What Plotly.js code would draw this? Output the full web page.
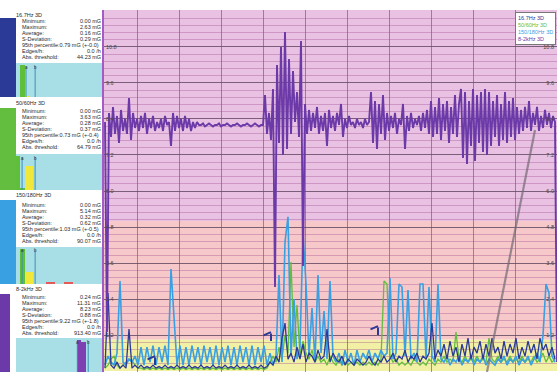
<!DOCTYPE html>
<html><head><meta charset="utf-8">
<script src="https://cdn.plot.ly/plotly-3.0.1.min.js"></script>
<style>html,body{margin:0;padding:0;background:#fff;overflow:hidden}#chart{width:560px;height:372px}</style>
</head><body><div id="chart"></div>
<script>
// ---------------- DATA ----------------
const seriesNames = ["16.7Hz 3D", "50/60Hz 3D", "150/180Hz 3D", "8-2kHz 3D"];

// 8-2kHz 3D (one sample every 2 time units)
const kHzValues = [
8.3,1.3,8.6,7.8,8.8,7.9,8.5,7.6,8.7,8.0,8.4,7.9,9.1,7.7,8.6,8.1,
8.4,8.0,8.5,8.1,8.6,7.9,8.4,8.1,8.5,8.0,8.3,8.1,8.4,8.0,8.5,8.2,8.3,
7.5,8.6,8.0,8.5,8.1,8.4,8.0,8.5,8.1,8.4,8.0,8.3,8.1,8.3,8.2,
8.2,8.25,8.15,8.2,8.25,8.2,8.15,8.2,8.2,8.25,8.15,8.2,8.2,8.25,8.2,8.15,8.2,8.2,8.25,8.2,8.15,8.2,8.2,8.25,8.2,8.15,8.2,8.25,8.2,8.15,8.2,8.2,
9.2,7.9,8.6,7.7,9.4,2.8,10.2,7.6,10.8,7.2,11.3,7.4,10.4,7.9,10.0,8.3,9.3,7.8,
11.0,3.5,8.9,7.9,8.7,8.0,8.6,8.1,8.8,7.9,8.5,8.0,8.6,7.5,8.7,8.1,8.5,8.0,8.6,8.2,8.9,7.8,8.4,8.1,8.5,8.2,8.3,8.1,8.4,8.2,8.3,8.1,8.4,8.2,8.3,
9.3,7.6,9.0,7.4,8.9,7.9,9.2,7.7,8.6,8.0,
8.5,8.1,8.6,7.9,8.4,8.2,8.9,7.4,8.5,8.0,8.6,8.1,8.4,8.2,8.5,8.0,8.6,8.1,8.7,7.9,
9.0,7.8,8.8,7.9,9.1,7.7,8.9,8.0,9.0,7.6,8.8,7.9,9.2,7.8,8.9,
9.4,7.1,9.3,6.9,9.0,7.5,9.4,7.0,9.2,7.6,9.3,7.3,9.4,
7.2,9.3,7.5,9.0,7.8,9.2,7.5,8.9,7.7,9.3,7.6,9.0,7.8,9.1,7.7,8.8,7.9,
8.7,8.0,8.8,8.1,9.0,8.0,8.6,8.2,8.8,8.0,8.5,8.1,8.7,8.2,8.6,8.1,8.5,
8.3,0.3];

// 150/180Hz 3D (one sample every 3 time units)
const hz150Values = [
0.2,0.5,0.3,0.2,0.6,3.0,0.3,0.2,0.4,0.3,
0.5,0.2,0.8,0.2,0.8,0.3,0.85,0.2,0.8,0.3,
0.85,0.2,3.4,1.9,0.2,0.85,0.2,0.8,0.2,0.85,
0.3,0.8,0.2,0.85,0.3,0.8,0.2,0.85,0.2,0.8,
0.3,0.85,0.2,0.8,0.2,0.85,0.3,0.8,0.2,0.85,
0.2,0.8,0.3,0.85,0.2,0.6,0.2,0.5,3.2,0.3,
4.3,5.14,0.5,2.4,0.4,0.8,4.6,2.9,0.5,2.1,
0.3,3.2,0.6,2.0,0.4,3.0,0.5,0.3,0.6,0.2,
0.7,0.3,0.6,0.2,0.7,0.3,0.6,0.4,0.7,0.3,
0.6,0.4,0.7,0.5,0.6,3.1,0.4,0.6,2.9,2.8,
0.5,2.7,0.4,0.6,0.3,2.9,2.9,0.4,2.8,0.5,
0.3,2.9,0.4,0.3,0.5,0.2,0.4,0.3,0.5,0.2,
0.4,0.3,0.5,0.2,0.4,0.3,0.5,0.2,0.4,0.3,
0.2,0.4,0.3,0.5,0.2,0.4,0.3,0.5,0.2,0.4,
0.3,0.5,0.2,0.4,0.6,0.3,1.2,2.9,2.6,0.5,
0.3];

// 16.7Hz 3D
const hz16Values = [
0.1,2.6,0.2,0.1,0.3,0.1,0.2,0.1,1.4,0.1,
0.2,0.1,0.2,0.1,0.15,0.1,0.2,0.1,0.15,0.1,
0.2,0.1,0.15,0.1,0.2,0.1,0.15,0.1,0.2,0.1,
0.15,0.1,0.2,0.1,0.15,0.1,0.2,0.1,0.15,0.1,
0.2,0.1,0.15,0.1,0.2,0.1,0.15,0.1,0.2,0.1,
0.15,0.1,0.2,0.1,0.15,0.3,0.2,0.5,0.3,1.1,
1.6,0.4,0.6,0.3,0.8,0.4,0.9,0.3,0.6,0.5,
0.3,0.7,0.4,0.5,1.4,0.3,0.6,0.4,0.3,0.5,
0.2,0.4,0.3,0.2,0.4,0.3,0.2,0.3,0.5,0.3,
0.2,0.4,0.3,0.5,0.3,0.4,0.6,0.3,0.5,0.4,
0.7,0.3,0.5,0.4,0.6,0.3,0.5,0.4,0.6,1.6,
0.4,0.7,0.5,0.9,0.4,1.0,0.5,0.8,0.3,0.9,
0.5,1.1,0.4,0.8,0.6,1.0,0.4,0.9,0.5,1.1,
0.6,0.8,0.4,1.0,0.5,0.9,0.6,1.1,0.4,0.8,
0.5,1.0,0.6,0.9,0.4,1.1,0.7,0.9,0.5,0.8,
0.4];

// 50/60Hz 3D
const hz50Values = [
0.1,0.2,0.4,0.5,0.2,0.1,0.2,0.3,0.4,0.35,
0.2,0.1,0.1,0.05,0.1,0.05,0.1,0.05,0.1,0.05,
0.1,0.05,0.1,0.05,0.1,0.05,0.1,0.05,0.1,0.05,
0.1,0.05,0.1,0.05,0.1,0.05,0.1,0.05,0.1,0.05,
0.1,0.05,0.1,0.05,0.1,0.05,0.1,0.05,0.1,0.05,
0.1,0.05,0.1,0.05,0.1,0.3,0.5,0.3,0.8,0.4,
1.2,0.6,3.63,0.8,2.2,0.5,1.0,0.6,0.4,0.7,
0.3,0.5,0.3,0.4,0.2,0.5,0.3,0.2,0.4,0.2,
0.3,0.2,0.3,0.2,0.3,0.2,0.3,0.2,0.3,0.2,
0.3,0.2,0.4,3.0,2.9,0.5,0.3,0.4,0.2,0.3,
0.2,0.3,0.2,0.4,0.3,0.2,0.3,0.2,0.4,0.3,
0.2,0.4,0.3,0.5,0.3,0.4,0.3,1.3,0.4,0.3,
0.5,0.3,0.4,0.3,0.5,0.3,0.4,0.3,1.1,0.4,
0.3,0.5,0.3,0.4,0.3,0.5,0.3,0.4,0.3,0.5,
0.3,0.4,0.3,0.5,0.3,0.4,0.6,0.3,0.5,0.3,
0.4];

// event markers (time units, mG)
const eventTimes = [50, 166, 273];
const eventLevels = [0.5, 1.3, 1.5];

// y tick labels (mG)
const yTickVals = [1.2, 2.4, 3.6, 4.8, 6.0, 7.2, 8.4, 9.6, 10.8];
const yTickText = ["1.2", "2.4", "3.6", "4.8", "6.0", "7.2", "8.4", "9.6", "10.8"];

// threshold bands (mG)
const bandLow = [0, 1.05, 5.0];
const bandHigh = [1.05, 5.0, 12.2];

// statistics panels
const statLabels = ["Minimum:", "Maximum:", "Average:", "S-Deviation:", "95th percentile:", "Edges/h:", "Abs. threshold:"];
const stats16 = ["0.00 mG", "2.63 mG", "0.16 mG", "0.29 mG", "0.79 mG (+-0.0)", "0.0 /h", "44.23 mG"];
const stats50 = ["0.00 mG", "3.63 mG", "0.28 mG", "0.37 mG", "0.73 mG (+-0.4)", "0.0 /h", "64.79 mG"];
const stats150 = ["0.00 mG", "5.14 mG", "0.32 mG", "0.62 mG", "1.03 mG (+-0.5)", "0.0 /h", "90.07 mG"];
const stats8k = ["0.24 mG", "11.31 mG", "8.23 mG", "0.88 mG", "9.22 mG (+-1.8)", "0.0 /h", "913.40 mG"];

// histogram bins (relative frequency)
const histBins = [0,1,2,3,4,5,6,7,8,9,10,11,12,13,14,15,16,17,18,19];
const hist16 = [0,1,0.02,0,0,0,0,0,0,0,0,0,0,0,0,0,0,0,0,0];
const hist50 = [1,0.05,0.7,0.7,0,0,0,0,0,0,0,0,0,0,0,0,0,0,0,0];
const hist150 = [0,1,0.33,0.33,0,0,0,0.06,0.06,0,0,0.06,0.06,0,0,0,0,0,0,0];
const hist8k = [0,0,0,0,0,0,0,0,0,0,0,0,0,0,1,0.95,0,0,0,0];
const histMarkA = [1.8, 0.9, 0.9, 13.6];
const histMarkB = [3.9, 3.9, 3.9, 16.1];

// ---------------- STYLE / LAYOUT ----------------
const W = 560, H = 372;
const PX = p => p / W, PY = p => 1 - p / H;
const COLORS = ["#2b3a96", "#63bd3f", "#39a0e2", "#6c3aa8"];
const P_STEP = 2, B_STEP = 3;
const xs = (arr, step) => arr.map((_, i) => i * step);
const FONT = "Liberation Sans, Arial, sans-serif";

const traces = [
  {x: xs(hz50Values, B_STEP), y: hz50Values, mode: "lines", line: {color: COLORS[1], width: 1.3}, name: seriesNames[1]},
  {x: xs(hz150Values, B_STEP), y: hz150Values, mode: "lines", line: {color: COLORS[2], width: 1.6}, name: seriesNames[2]},
  {x: xs(hz16Values, B_STEP), y: hz16Values, mode: "lines", line: {color: COLORS[0], width: 1.3}, name: seriesNames[0]},
  {x: xs(kHzValues, P_STEP), y: kHzValues, mode: "lines", line: {color: COLORS[3], width: 1.9}, name: seriesNames[3], yaxis: "y2"}
];
traces.forEach(t => { t.showlegend = false; t.hoverinfo = "skip"; if (!t.yaxis) t.yaxis = "y"; t.xaxis = "x"; });

const histSets = [hist16, hist50, hist150, hist8k];
const binColor = b => b <= 1 ? "#5fbf3a" : (b <= 6 ? "#efe83a" : (b <= 13 ? "#e45a5a" : "#7d3fb2"));
const blocks = [
  {title: 15, bar: [0, 16, 18, 97], row0: 21, hist: [63, 97]},
  {title: 103, bar: [0, 16, 108, 190], row0: 111, hist: [154, 190]},
  {title: 195, bar: [0, 16, 200, 284], row0: 205, hist: [247, 284]},
  {title: 289, bar: [0, 10, 294, 372], row0: 297, hist: [338, 372]}
];
const statSets = [stats16, stats50, stats150, stats8k];

const layout = {
  width: W, height: H,
  margin: {l: 0, r: 0, t: 0, b: 0},
  paper_bgcolor: "#ffffff", plot_bgcolor: "rgba(0,0,0,0)",
  showlegend: false, bargap: 0,
  font: {family: FONT, size: 6, color: "#333"},
  xaxis: {domain: [PX(104), PX(557)], range: [-1, 452], showticklabels: false, ticks: "",
          tick0: 32, dtick: 42, showgrid: true, gridcolor: "rgba(120,95,125,0.7)", gridwidth: 1,
          zeroline: false, showline: false, fixedrange: true},
  yaxis: {domain: [0, PY(10)], range: [-0.03, 12.03], tickmode: "array", tickvals: yTickVals, ticktext: yTickText,
          ticklabelposition: "inside", ticks: "", tickfont: {size: 5.5, color: "#444", family: FONT},
          showgrid: true, gridcolor: "rgba(95,75,95,0.75)", gridwidth: 1,
          minor: {tick0: 0, dtick: 0.24, showgrid: true, gridcolor: "rgba(160,80,150,0.38)", gridwidth: 1},
          zeroline: false, showline: true, linecolor: "#a45cc4", linewidth: 2, fixedrange: true},
  yaxis2: {overlaying: "y", side: "right", range: [-0.03, 12.03], tickmode: "array", tickvals: yTickVals, ticktext: yTickText,
           ticklabelposition: "inside", ticks: "", tickfont: {size: 5.5, color: "#444", family: FONT},
           showgrid: false, zeroline: false, showline: false, fixedrange: true},
  shapes: [], annotations: []
};

// threshold bands
const bandColors = ["#f2f0a4", "#f7c8c9", "#e9c2e3"];
bandLow.forEach((lo, i) => layout.shapes.push({type: "rect", layer: "below", xref: "paper", yref: "y",
  x0: PX(104), x1: PX(557), y0: lo, y1: bandHigh[i], fillcolor: bandColors[i], line: {width: 0}}));

// left statistic panels
const panelText = {family: FONT, size: 5.5, color: "#2a2a2a"};
blocks.forEach((b, k) => {
  layout.shapes.push({type: "rect", layer: "below", xref: "paper", yref: "paper",
    x0: PX(16), x1: PX(104), y0: PY(b.hist[1]), y1: PY(b.hist[0]), fillcolor: "#a8dfe6", line: {width: 0}});
  layout.shapes.push({type: "rect", layer: "below", xref: "paper", yref: "paper",
    x0: PX(b.bar[0]), x1: PX(b.bar[1]), y0: PY(b.bar[3]), y1: PY(b.bar[2]), fillcolor: COLORS[k], line: {width: 0}});
  layout.annotations.push({xref: "paper", yref: "paper", x: PX(14), y: PY(b.title), xanchor: "left", yanchor: "middle",
    text: seriesNames[k], showarrow: false, font: panelText});
  statLabels.forEach((lab, r) => {
    const y = PY(b.row0 + r * 6);
    if (r === 4) {
      layout.annotations.push({xref: "paper", yref: "paper", x: PX(20), y, xanchor: "left", yanchor: "middle",
        text: lab + statSets[k][r], showarrow: false, font: panelText});
    } else {
      layout.annotations.push({xref: "paper", yref: "paper", x: PX(20), y, xanchor: "left", yanchor: "middle",
        text: lab, showarrow: false, font: panelText});
      layout.annotations.push({xref: "paper", yref: "paper", x: PX(103), y, xanchor: "right", yanchor: "middle",
        text: statSets[k][r], showarrow: false, font: panelText});
    }
  });
  const n = k + 3;
  layout["xaxis" + n] = {domain: [PX(16), PX(103)], range: [-0.5, 19.5], visible: false, anchor: "y" + n, fixedrange: true};
  layout["yaxis" + n] = {domain: [PY(b.hist[1]), PY(b.hist[0] + 2)], range: [0, 1], visible: false, anchor: "x" + n, fixedrange: true};
  traces.push({type: "bar", x: histBins, y: histSets[k], xaxis: "x" + n, yaxis: "y" + n, width: 1,
    marker: {color: histBins.map(binColor), line: {width: 0}}, showlegend: false, hoverinfo: "skip"});
  [histMarkA[k], histMarkB[k]].forEach((m, j) => {
    layout.shapes.push({type: "line", xref: "x" + n, yref: "paper", x0: m, x1: m, y0: PY(b.hist[1]), y1: PY(b.hist[0] + 3),
      line: {color: "#3f8fb8", width: 1}});
    layout.annotations.push({xref: "x" + n, yref: "paper", x: m, y: PY(b.hist[0] + 4), xanchor: "center", yanchor: "middle",
      text: j === 0 ? "a" : "b", showarrow: false, font: {family: FONT, size: 4.5, color: "#333"}});
  });
});

// event hook markers
eventTimes.forEach((t, i) => {
  layout.annotations.push({xref: "x", yref: "y", x: t, y: eventLevels[i], ax: -9, ay: 4, showarrow: true,
    arrowhead: 0, arrowwidth: 2, arrowcolor: COLORS[0], text: ""});
  layout.annotations.push({xref: "x", yref: "y", x: t, y: eventLevels[i] - 0.3, ax: 0, ay: -9, showarrow: true,
    arrowhead: 0, arrowwidth: 2, arrowcolor: COLORS[0], text: ""});
});

// legend box
const legendLines = seriesNames.map((s, i) => '<span style="color:' + COLORS[i] + '">' + s + '</span>');
layout.annotations.push({xref: "paper", yref: "paper", x: PX(556), y: PY(12), xanchor: "right", yanchor: "top",
  align: "left", text: legendLines.join("<br>"), showarrow: false, bgcolor: "#ffffff", bordercolor: "#777",
  borderwidth: 1, borderpad: 2, font: {family: FONT, size: 5.5}});

// cursor line drawn over the chart
layout.shapes.push({type: "line", layer: "above", xref: "paper", yref: "paper",
  x0: PX(535), y0: PY(130), x1: PX(487), y1: PY(372), line: {color: "rgba(115,105,115,0.7)", width: 2.2}});

Plotly.newPlot("chart", traces, layout, {staticPlot: true, displayModeBar: false});
</script>
</body></html>
